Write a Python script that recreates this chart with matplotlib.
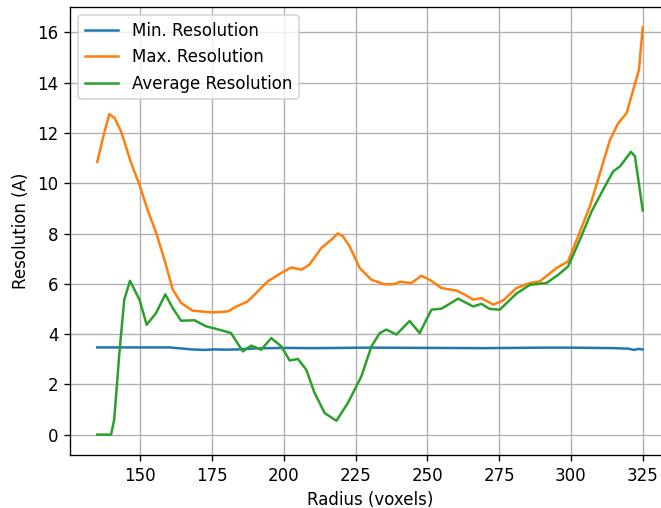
import matplotlib
matplotlib.use("Agg")
import matplotlib.pyplot as plt

# Max resolution
max_x = [135.0, 137.4, 139.2, 141.0, 143.3, 146.8, 149.7, 152.5, 155.5, 158.4, 161.3, 164.2,
         168.2, 175.2, 180.5, 183.5, 187.4, 190.5, 194.4, 199.1, 202.6, 206.1, 208.9, 213.0,
         216.5, 218.8, 220.5, 222.9, 226.4, 230.5, 235.1, 238.5, 240.3, 244.4, 247.9, 250.8,
         254.9, 260.1, 263.0, 265.9, 268.8, 272.9, 276.4, 281.0, 285.7, 289.2, 295.0, 299.0,
         302.5, 306.6, 310.1, 313.6, 316.5, 319.4, 321.7, 323.7, 325.0]
max_y = [10.85, 12.0, 12.75, 12.6, 12.06, 10.8, 9.94, 8.95, 8.03, 6.96, 5.77, 5.24,
         4.93, 4.86, 4.90, 5.10, 5.30, 5.65, 6.10, 6.43, 6.65, 6.56, 6.76, 7.42,
         7.75, 8.00, 7.90, 7.49, 6.63, 6.16, 5.98, 5.99, 6.08, 6.03, 6.32, 6.16,
         5.83, 5.73, 5.57, 5.37, 5.43, 5.17, 5.34, 5.83, 6.03, 6.10, 6.63, 6.89,
         7.89, 9.08, 10.4, 11.73, 12.39, 12.79, 13.72, 14.51, 16.2]

# Average resolution
avg_x = [135.0, 137.0, 139.8, 140.9, 142.7, 144.4, 146.4, 149.7, 152.2, 155.5, 158.7, 161.3,
         164.2, 168.8, 172.9, 177.6, 181.6, 183.5, 185.7, 188.6, 192.1, 195.6, 199.1, 202.0,
         204.9, 207.8, 210.7, 214.2, 218.3, 222.3, 227.0, 230.5, 233.4, 235.7, 239.2, 243.8,
         247.3, 251.4, 254.9, 260.7, 265.9, 268.8, 271.7, 275.2, 281.0, 285.7, 291.5, 295.6,
         299.0, 303.1, 307.2, 311.8, 314.7, 317.1, 320.9, 322.3, 325.0]
avg_y = [0.0, 0.0, 0.0, 0.6, 3.25, 5.37, 6.12, 5.37, 4.37, 4.84, 5.58, 5.03,
         4.53, 4.55, 4.31, 4.17, 4.04, 3.70, 3.31, 3.54, 3.38, 3.84, 3.51, 2.95,
         3.01, 2.58, 1.66, 0.86, 0.55, 1.26, 2.32, 3.51, 4.04, 4.18, 3.98, 4.52,
         4.04, 4.97, 5.01, 5.41, 5.10, 5.20, 5.00, 4.97, 5.61, 5.96, 6.03, 6.36,
         6.69, 7.75, 8.88, 9.87, 10.47, 10.67, 11.25, 11.07, 8.92]

# Min resolution
min_x = [135.0, 150.0, 160.0, 163.0, 168.0, 172.0, 176.0, 180.0, 184.0, 190.0, 200.0, 210.0,
         230.0, 250.0, 270.0, 290.0, 300.0, 315.0, 320.0, 322.0, 323.5, 325.0]
min_y = [3.47, 3.47, 3.47, 3.44, 3.39, 3.37, 3.39, 3.38, 3.39, 3.43, 3.45, 3.44,
         3.46, 3.45, 3.44, 3.46, 3.46, 3.44, 3.42, 3.37, 3.41, 3.39]

DPI = 120
fig = plt.figure(figsize=(661 / DPI, 508 / DPI), dpi=DPI)
ax = fig.add_axes([70 / 661, 53 / 508, 600 / 661, 448 / 508])
ax.plot(min_x, min_y, label="Min. Resolution")
ax.plot(max_x, max_y, label="Max. Resolution")
ax.plot(avg_x, avg_y, label="Average Resolution")
ax.set_xlabel("Radius (voxels)")
ax.set_ylabel("Resolution (A)")
ax.grid(True)
ax.legend(loc="upper left")
fig.savefig("out.png", dpi=DPI)
